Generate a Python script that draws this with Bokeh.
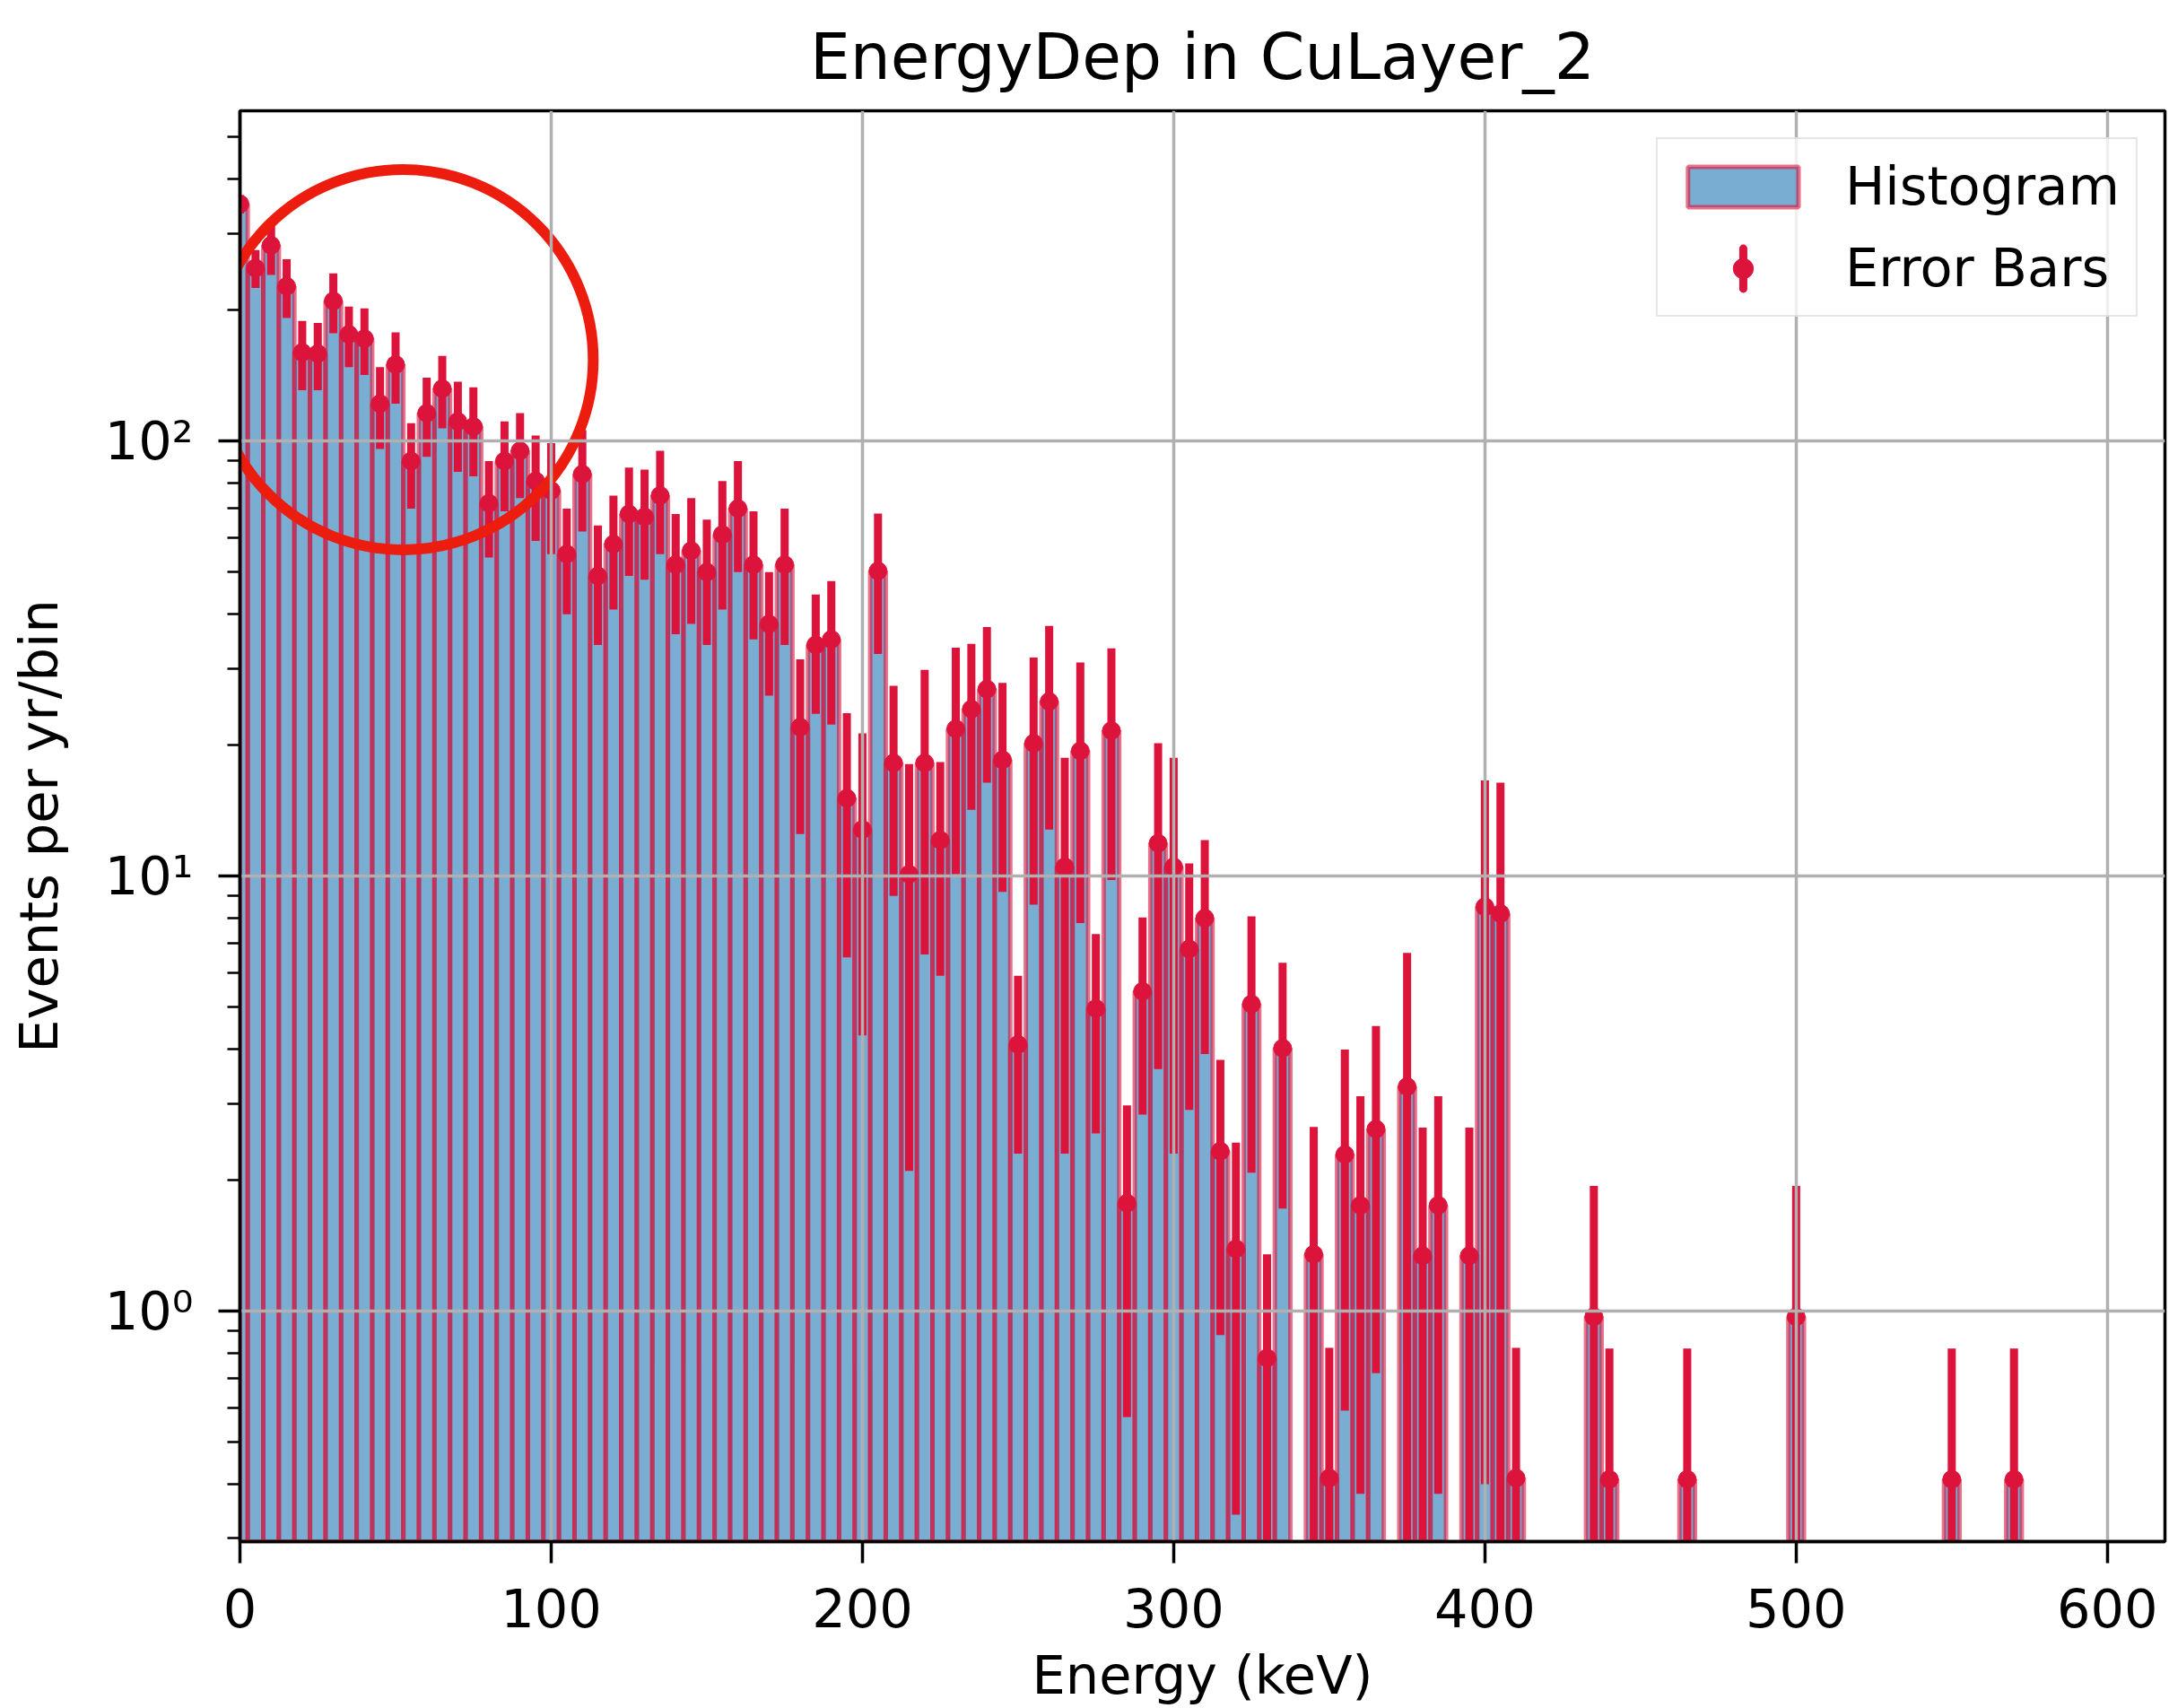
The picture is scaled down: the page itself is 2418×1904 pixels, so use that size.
import numpy as np
from bokeh.plotting import figure
from bokeh.models import ColumnDataSource, FixedTicker, Legend, LegendItem, Range1d
from bokeh.embed import file_html
from bokeh.resources import INLINE

TITLE = "EnergyDep in CuLayer_2"
X_LABEL = "Energy (keV)"
Y_LABEL = "Events per yr/bin"
BIN_WIDTH = 5.0

# non-empty bins (bin centre in keV)
energy_kev = [0, 5, 10, 15, 20, 25, 30, 35, 40, 45, 50, 55, 60, 65, 70, 75, 80, 85, 90, 95,
              100, 105, 110, 115, 120, 125, 130, 135, 140, 145, 150, 155, 160, 165, 170, 175,
              180, 185, 190, 195, 200, 205, 210, 215, 220, 225, 230, 235, 240, 245, 250, 255,
              260, 265, 270, 275, 280, 285, 290, 295, 300, 305, 310, 315, 320, 325, 330, 335,
              345, 350, 355, 360, 365, 375, 380, 385, 395, 400, 405, 410,
              435, 440, 465, 500, 550, 570]
events_per_yr = [351, 250, 282, 227, 160, 159, 210, 176, 172, 122, 150, 90, 116, 132, 111, 108,
                 72, 90, 95, 81, 77, 55, 84, 49, 58, 68, 67, 75, 52, 56, 50, 61, 70, 52, 38, 52,
                 22, 34, 35, 15.1, 12.8, 50.3, 18.2, 10.1, 18.2, 12.1, 21.8, 24.2, 26.9, 18.5,
                 4.1, 20.2, 25.2, 10.5, 19.4, 4.96, 21.6, 1.77, 5.43, 11.9, 10.5, 6.8, 8.0, 2.33,
                 1.39, 5.08, 0.78, 4.02,
                 1.35, 0.413, 2.29, 1.75, 2.62, 3.28, 1.34, 1.75, 1.34, 8.5, 8.2, 0.413,
                 0.97, 0.41, 0.41, 0.97, 0.41, 0.41]
errors = [17, 25, 41, 35, 29, 28, 33, 28, 30, 26, 28, 20, 24, 25, 26, 25,
          18, 21, 21, 22, 22, 15, 22, 15, 17, 19, 19, 20, 16, 18, 16, 20, 20, 17, 12, 18,
          9.5, 10.4, 12.7, 8.6, 8.5, 17.9, 9.2, 8.0, 11.6, 6.2, 11.7, 10.0, 10.5, 9.3,
          1.8, 11.6, 12.4, 8.2, 11.6, 2.4, 11.8, 1.2, 2.6, 8.3, 8.2, 3.9, 4.1, 1.45,
          1.05, 3.0, 0.57, 2.3,
          1.3, 0.41, 1.7, 1.37, 1.9, 3.38, 1.3, 1.37, 1.3, 8.1, 8.2, 0.41,
          0.97, 0.41, 0.41, 0.97, 0.41, 0.41]

x_ticks = [0, 100, 200, 300, 400, 500, 600]
y_ticks = [1, 10, 100]
y_tick_labels = {1: "10\u2070", 10: "10\u00b9", 100: "10\u00b2"}
y_minor_ticks = [0.3, 0.4, 0.5, 0.6, 0.7, 0.8, 0.9,
                 2, 3, 4, 5, 6, 7, 8, 9,
                 20, 30, 40, 50, 60, 70, 80, 90,
                 200, 300, 400, 500]

X_MIN, X_MAX = 0.0, 618.5
Y_MIN, Y_MAX = 0.295, 575.0

# highlight ring drawn on the reference image (annotation)
RING_E, RING_V, RING_DIAM = 52.4, 154.0, 424

FONT = "DejaVu Sans"
CRIMSON = "crimson"
BAR_BLUE = "#1f77b4"

e = np.array(energy_kev, dtype=float)
v = np.array(events_per_yr, dtype=float)
err = np.array(errors, dtype=float)
lower = np.maximum(v - err, 1e-4)
upper = v + err

src = ColumnDataSource(dict(x=e, top=v, lo=lower, hi=upper))

p = figure(width=2418, height=1904, y_axis_type="log",
           x_range=Range1d(X_MIN, X_MAX), y_range=Range1d(Y_MIN, Y_MAX),
           output_backend="svg", toolbar_location=None,
           min_border_left=267, min_border_right=5, min_border_top=123, min_border_bottom=183)

p.title.text = TITLE
p.title.align = "center"
p.title.text_font = FONT
p.title.text_font_size = "71px"
p.title.text_font_style = "normal"
p.title.text_color = "black"
p.title.standoff = 37

bars = p.vbar(x="x", top="top", bottom=1e-4, width=BIN_WIDTH, source=src,
              fill_color=BAR_BLUE, fill_alpha=0.6, line_color=CRIMSON, line_alpha=0.6,
              line_width=5, level="underlay")

errs = p.segment(x0="x", y0="lo", x1="x", y1="hi", source=src,
                 line_color=CRIMSON, line_width=9, line_cap="butt")
dots = p.scatter(x="x", y="top", source=src, marker="circle", size=20,
                 fill_color=CRIMSON, line_color=CRIMSON)

# legend-only proxy: a needle-thin ellipse gives a vertical bar glyph in the legend
proxy = p.ellipse(x=[X_MIN - 100 * BIN_WIDTH], y=[1.0], width=0.001, height=1.0,
                  width_units="screen", height_units="screen",
                  fill_color=None, line_color=CRIMSON, line_width=9)

p.scatter(x=[RING_E], y=[RING_V], marker="circle", size=RING_DIAM,
          fill_color=None, line_color="#ec1c0e", line_width=12)

legend = Legend(items=[LegendItem(label="Histogram", renderers=[bars]),
                       LegendItem(label="Error Bars", renderers=[proxy, dots])],
                location="top_right", margin=30, padding=18, spacing=22,
                glyph_width=154, glyph_height=56, label_standoff=37,
                label_text_font=FONT, label_text_font_size="59px",
                label_text_color="black",
                border_line_color="#cccccc", border_line_width=2.5,
                background_fill_color="white", background_fill_alpha=0.8)
p.add_layout(legend)

p.xaxis.ticker = FixedTicker(ticks=x_ticks)
p.yaxis.ticker = FixedTicker(ticks=y_ticks, minor_ticks=y_minor_ticks)
p.yaxis.major_label_overrides = y_tick_labels
p.xgrid.ticker = FixedTicker(ticks=x_ticks)
p.ygrid.ticker = FixedTicker(ticks=y_ticks)

for ax in (p.xaxis[0], p.yaxis[0]):
    ax.axis_line_color = "black"
    ax.axis_line_width = 3.5
    ax.major_tick_line_color = "black"
    ax.major_tick_line_width = 3.5
    ax.major_tick_out = 24
    ax.major_tick_in = 0
    ax.major_label_text_font = FONT
    ax.major_label_text_font_size = "59px"
    ax.major_label_text_color = "black"
    ax.axis_label_text_font = FONT
    ax.axis_label_text_font_size = "59px"
    ax.axis_label_text_font_style = "normal"
    ax.axis_label_text_color = "black"

p.xaxis.axis_label = X_LABEL
p.yaxis.axis_label = Y_LABEL
p.xaxis.minor_tick_line_color = None
p.xaxis.major_label_standoff = 28
p.xaxis.axis_label_standoff = 16
p.yaxis.minor_tick_out = 14
p.yaxis.minor_tick_in = 0
p.yaxis.minor_tick_line_width = 2.5
p.yaxis.minor_tick_line_color = "black"
p.yaxis.major_label_standoff = 28
p.yaxis.axis_label_standoff = 36

for g in (p.xgrid[0], p.ygrid[0]):
    g.grid_line_color = "#b0b0b0"
    g.grid_line_width = 3.5
    g.level = "glyph"

p.outline_line_color = "black"
p.outline_line_width = 3.5
p.background_fill_color = "white"
p.border_fill_color = "white"

open("out.html", "w").write(file_html(p, INLINE))
